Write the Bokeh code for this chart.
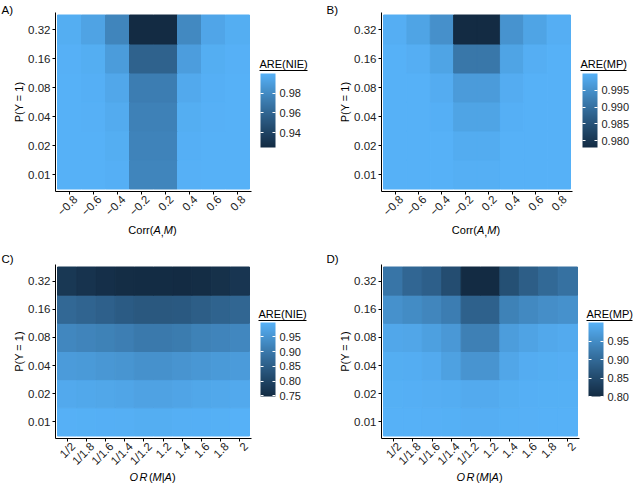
import math
from bokeh.plotting import figure
from bokeh.models import (Range1d, FixedTicker, LinearColorMapper, ColorBar, LinearAxis,
                          PrintfTickFormatter, ColumnDataSource)
from bokeh.layouts import column, row
from bokeh.embed import file_html
from bokeh.resources import INLINE

# ---------------- data ----------------
p_y_labels = ["0.01", "0.02", "0.04", "0.08", "0.16", "0.32"]
corr_labels = ["\u22120.8", "\u22120.6", "\u22120.4", "\u22120.2", "0.2", "0.4", "0.6", "0.8"]
or_labels = ["1/2", "1/1.8", "1/1.6", "1/1.4", "1/1.2", "1.2", "1.4", "1.6", "1.8", "2"]

# rows: P(Y=1) = 0.01 (bottom) ... 0.32 (top)
are_nie_corr = [
    [1.000, 1.000, 0.999, 0.977, 0.977, 0.9995, 1.000, 1.000],
    [1.000, 1.000, 0.998, 0.976, 0.976, 0.999, 1.000, 1.000],
    [1.000, 0.9995, 0.997, 0.975, 0.975, 0.998, 0.9995, 1.000],
    [1.000, 0.999, 0.995, 0.973, 0.973, 0.996, 0.999, 1.000],
    [0.9995, 0.998, 0.989, 0.958, 0.958, 0.990, 0.998, 0.9995],
    [0.998, 0.9925, 0.977, 0.925, 0.925, 0.979, 0.994, 0.998],
]
are_mp_corr = [
    [1.000, 1.000, 1.000, 0.9996, 0.9996, 1.000, 1.000, 1.000],
    [1.000, 1.000, 1.000, 0.9992, 0.9992, 1.000, 1.000, 1.000],
    [1.000, 1.000, 0.9997, 0.998, 0.998, 0.9997, 1.000, 1.000],
    [1.000, 1.000, 0.9993, 0.9967, 0.9967, 0.9993, 1.000, 1.000],
    [1.000, 0.9995, 0.998, 0.991, 0.991, 0.998, 0.9995, 1.000],
    [0.9995, 0.998, 0.995, 0.978, 0.978, 0.9955, 0.998, 0.9995],
]
are_nie_or = [
    [0.997, 0.996, 0.995, 0.994, 0.992, 0.992, 0.994, 0.995, 0.996, 0.998],
    [0.985, 0.982, 0.980, 0.977, 0.972, 0.972, 0.976, 0.980, 0.982, 0.985],
    [0.960, 0.957, 0.953, 0.950, 0.943, 0.943, 0.948, 0.953, 0.957, 0.960],
    [0.925, 0.920, 0.915, 0.910, 0.900, 0.900, 0.905, 0.915, 0.920, 0.925],
    [0.870, 0.862, 0.855, 0.845, 0.838, 0.838, 0.840, 0.850, 0.860, 0.865],
    [0.775, 0.765, 0.757, 0.752, 0.750, 0.750, 0.748, 0.752, 0.760, 0.770],
]
are_mp_or = [
    [1.000, 1.000, 0.999, 0.998, 0.996, 0.996, 0.998, 0.999, 1.000, 1.000],
    [0.998, 0.997, 0.996, 0.994, 0.990, 0.990, 0.995, 0.997, 0.998, 0.998],
    [0.995, 0.994, 0.990, 0.978, 0.960, 0.960, 0.985, 0.993, 0.995, 0.996],
    [0.986, 0.985, 0.976, 0.966, 0.932, 0.932, 0.972, 0.980, 0.988, 0.990],
    [0.956, 0.948, 0.940, 0.928, 0.886, 0.886, 0.934, 0.944, 0.952, 0.956],
    [0.916, 0.894, 0.884, 0.856, 0.800, 0.800, 0.860, 0.882, 0.898, 0.910],
]
ticks_a = [0.94, 0.96, 0.98]
ticks_b = [0.980, 0.985, 0.990, 0.995]
ticks_c = [0.75, 0.80, 0.85, 0.90, 0.95]
ticks_d = [0.80, 0.85, 0.90, 0.95]

# ---------------- palette (ggplot2 default gradient, Lab interpolation) ----------------
def _lin(c):
    c = c / 255.0
    return c / 12.92 if c <= 0.04045 else ((c + 0.055) / 1.055) ** 2.4

def _delin(c):
    v = 12.92 * c if c <= 0.0031308 else 1.055 * c ** (1 / 2.4) - 0.055
    return max(0, min(255, round(v * 255)))

def _f(t):
    return t ** (1 / 3) if t > (6 / 29) ** 3 else t / (3 * (6 / 29) ** 2) + 4 / 29

def _finv(t):
    return t ** 3 if t > 6 / 29 else 3 * (6 / 29) ** 2 * (t - 4 / 29)

def hex_to_lab(h):
    r, g, b = (_lin(int(h[i:i + 2], 16)) for i in (1, 3, 5))
    X = 0.4124 * r + 0.3576 * g + 0.1805 * b
    Y = 0.2126 * r + 0.7152 * g + 0.0722 * b
    Z = 0.0193 * r + 0.1192 * g + 0.9505 * b
    fx, fy, fz = _f(X / 0.95047), _f(Y), _f(Z / 1.08883)
    return 116 * fy - 16, 500 * (fx - fy), 200 * (fy - fz)

def lab_to_hex(L, a, b):
    fy = (L + 16) / 116
    fx = fy + a / 500
    fz = fy - b / 200
    X, Y, Z = 0.95047 * _finv(fx), _finv(fy), 1.08883 * _finv(fz)
    r = 3.2406 * X - 1.5372 * Y - 0.4986 * Z
    g = -0.9689 * X + 1.8758 * Y + 0.0415 * Z
    bb = 0.0557 * X - 0.2040 * Y + 1.0570 * Z
    return "#%02x%02x%02x" % (_delin(r), _delin(g), _delin(bb))

lo_lab, hi_lab = hex_to_lab("#132B43"), hex_to_lab("#56B1F7")
palette = [lab_to_hex(*[lo_lab[k] + (hi_lab[k] - lo_lab[k]) * i / 255 for k in range(3)])
           for i in range(256)]

# ---------------- text helpers ----------------
FONT = "Liberation Sans"
CW = {'P': 667, '(': 333, ')': 333, 'Y': 667, ' ': 278, '=': 584, '1': 556, 'C': 722,
      'o': 556, 'r': 333, 'A': 667, ',': 278, 'M': 833, 'O': 778, 'R': 722, '|': 260,
      'E': 667, 'N': 722, 'I': 278}

def tw(s, size):
    return sum(CW.get(c, 556) for c in s) / 1000.0 * size


class Panel:
    """Helper that positions free text in figure pixel coordinates (origin top-left)."""
    def __init__(self, p, frame_left, frame_bottom):
        self.p, self.fl, self.fb = p, frame_left, frame_bottom

    def text(self, s, x_left, y_center, size=11, italic=False):
        cb = ColorBar(color_mapper=LinearColorMapper(palette=["#ffffff"], low=0, high=1),
                      scale_alpha=0, location=(x_left - self.fl - 1, self.fb - y_center - 8),
                      orientation="horizontal", width=1, height=1, padding=0, margin=0,
                      title=s, title_standoff=0, title_text_font=FONT,
                      title_text_font_size="%gpx" % size,
                      title_text_font_style="italic" if italic else "normal",
                      title_text_color="black", ticker=FixedTicker(ticks=[]),
                      major_tick_line_color=None, minor_tick_line_color=None,
                      bar_line_color=None, border_line_color=None,
                      background_fill_color=None, major_label_text_font_size="1px")
        self.p.add_layout(cb)

    def hline(self, x0, x1, y):
        cb = ColorBar(color_mapper=LinearColorMapper(palette=["black", "black"], low=0, high=1),
                      location=(x0 - self.fl - 1, self.fb - y - 2), orientation="horizontal",
                      width=int(round(x1 - x0)), height=1, padding=0, margin=0, title=None,
                      ticker=FixedTicker(ticks=[]), major_tick_line_color=None,
                      minor_tick_line_color=None, bar_line_color=None, border_line_color=None,
                      background_fill_color=None, major_label_text_font_size="1px")
        self.p.add_layout(cb)

    def pieces(self, pieces, cx, cy, size=11):
        total = sum(tw(t, size) + g for t, _, g in pieces)
        pos = cx - total / 2
        for t, it, g in pieces:
            self.text(t, pos, cy, size, it)
            pos += tw(t, size) + g


X_CORR = [("Corr", False, 0), ("(", False, 0), ("A", True, 0), (",", False, 0),
          ("M", True, 0), (")", False, 0)]
X_OR = [("O", True, 1.5), ("R", True, 1.5), ("(", False, 0), ("M", True, 0),
        ("|", False, 0), ("A", True, 0), (")", False, 0)]


def style_axis(ax):
    ax.axis_line_color = "black"
    ax.axis_line_width = 1
    ax.major_tick_line_color = "black"
    ax.major_tick_out = 3
    ax.major_tick_in = 0
    ax.minor_tick_line_color = None
    ax.major_label_text_font = FONT
    ax.major_label_text_font_size = "11.5px"
    ax.major_label_text_color = "#222222"
    ax.major_label_standoff = 2


def make_panel(values, xlabels, xtitle, letter, legend_title, ticks, fmt,
               W, H, left, top, fw, fh, bar_left, bar_bottom, title_left, title_y,
               xtitle_y, letter_x, letter_y):
    nrow, ncol = len(values), len(values[0])
    xs, ys, vs = [], [], []
    for j, r in enumerate(values):
        for i, v in enumerate(r):
            xs.append(i); ys.append(j); vs.append(v)
    mapper = LinearColorMapper(palette=palette, low=min(vs), high=max(vs))
    tile_px = (fw - 4.0) / ncol
    padx = 2.0 / tile_px
    pady = 2.5 * nrow / (fh - 5)
    p = figure(width=W, height=H, output_backend="svg", toolbar_location=None,
               x_range=Range1d(-0.5 - padx, ncol - 0.5 + padx),
               y_range=Range1d(-0.5 - pady, nrow - 0.5 + pady),
               min_border_left=left, min_border_top=top,
               min_border_right=W - left - fw, min_border_bottom=H - top - fh)
    p.grid.visible = False
    p.outline_line_color = None
    src = ColumnDataSource(dict(x=xs, y=ys, v=vs))
    cm = {"field": "v", "transform": mapper}
    p.rect(x="x", y="y", width=1, height=1, source=src, fill_color=cm,
           line_color=cm, line_width=1)
    style_axis(p.xaxis[0])
    style_axis(p.yaxis[0])
    # x axis: tick marks at tile centres; the rotated labels sit on a second
    # (line-less) axis, nudged right like ggplot's hjust = 1 labels
    p.xaxis.ticker = FixedTicker(ticks=list(range(ncol)))
    p.xaxis.major_label_overrides = {i: "" for i in range(ncol)}
    p.xaxis.major_label_standoff = 0
    shift = 6.0 / tile_px
    lab_ticks = [i + shift for i in range(ncol)]
    lab_axis = LinearAxis(ticker=FixedTicker(ticks=lab_ticks),
                          major_label_overrides={t: s for t, s in zip(lab_ticks, xlabels)})
    style_axis(lab_axis)
    lab_axis.axis_line_color = None
    lab_axis.major_tick_line_color = None
    lab_axis.major_tick_out = 0
    lab_axis.major_label_standoff = 3
    lab_axis.major_label_orientation = math.pi / 4
    p.add_layout(lab_axis, "below")

    p.yaxis.ticker = FixedTicker(ticks=list(range(nrow)))
    p.yaxis.major_label_overrides = {i: s for i, s in enumerate(p_y_labels)}
    p.yaxis.axis_label = "P(Y = 1)"
    p.yaxis.axis_label_text_font = FONT
    p.yaxis.axis_label_text_font_size = "11px"
    p.yaxis.axis_label_text_font_style = "normal"
    p.yaxis.axis_label_text_color = "black"
    p.yaxis.axis_label_standoff = 0

    frame_bottom = top + fh
    cb_kw = dict(color_mapper=mapper, orientation="vertical", width=15, height=74,
                 padding=0, margin=0, title=None, ticker=FixedTicker(ticks=ticks),
                 major_tick_line_color="white", major_tick_in=3, major_tick_out=0,
                 minor_tick_line_color=None, bar_line_color=None, border_line_color=None,
                 background_fill_color=None)
    cb = ColorBar(location=(bar_left - left - 1, frame_bottom - bar_bottom + 1),
                  formatter=PrintfTickFormatter(format=fmt),
                  major_label_text_font=FONT, major_label_text_font_size="11px",
                  major_label_text_color="#222222", label_standoff=4, **cb_kw)
    p.add_layout(cb)
    # white tick marks on the left edge of the bar as well
    cb2 = ColorBar(location=(bar_left - left - 1 - 12, frame_bottom - bar_bottom + 1),
                   scale_alpha=0, major_label_overrides={t: "" for t in ticks},
                   major_label_text_font_size="1px", label_standoff=0, **cb_kw)
    p.add_layout(cb2)

    pn = Panel(p, left, frame_bottom)
    pn.hline(title_left, title_left + tw(legend_title, 11), title_y + 6.5)
    pn.text(legend_title, title_left, title_y)
    pn.text(letter, letter_x, letter_y, size=11.5)
    pn.pieces(xtitle, left + fw / 2.0, xtitle_y)
    return p


# figure pixel geometry (origin at each figure's top-left)
pa = make_panel(are_nie_corr, corr_labels, X_CORR, "A)", "ARE(NIE)", ticks_a, "%.2f",
                310, 240, 55, 12, 196, 179, 261, 148, 260, 62, 228.5, 2, 8)
pb = make_panel(are_mp_corr, corr_labels, X_CORR, "B)", "ARE(MP)", ticks_b, "%.3f",
                323, 240, 71, 12, 191, 179, 273, 148, 271, 62, 228.5, 17, 8)
pc = make_panel(are_nie_or, or_labels, X_OR, "C)", "ARE(NIE)", ticks_c, "%.2f",
                310, 245, 55, 24, 196, 174, 261, 157, 259, 72, 235, 2, 17)
pd = make_panel(are_mp_or, or_labels, X_OR, "D)", "ARE(MP)", ticks_d, "%.2f",
                323, 245, 71, 24, 198, 174, 279, 157, 277, 72, 235, 17, 17)

layout = column(row(pa, pb), row(pc, pd))
open("out.html", "w").write(file_html(layout, INLINE))
